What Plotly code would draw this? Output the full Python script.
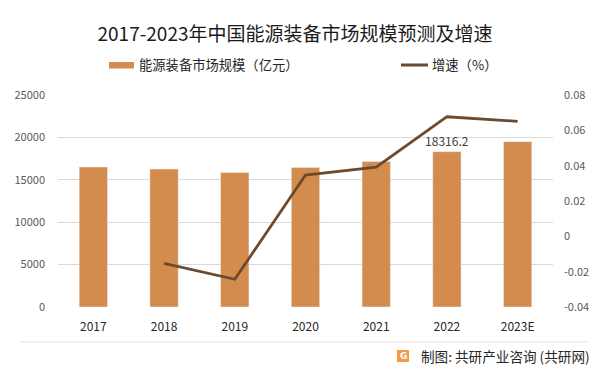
import plotly.graph_objects as go

# ---- data ----
years = ["2017", "2018", "2019", "2020", "2021", "2022", "2023E"]
market_size = [16510, 16260, 15850, 16450, 17150, 18316.2, 19500]   # 亿元
growth = [None, -0.0153, -0.0243, 0.0347, 0.0391, 0.0677, 0.0651]
labeled_year = "2022"
left_ticks = [0, 5000, 10000, 15000, 20000, 25000]
right_ticks = [-0.04, -0.02, 0, 0.02, 0.04, 0.06, 0.08]
right_tick_text = ["-0.04", "-0.02", "0", "0.02", "0.04", "0.06", "0.08"]

title_text = "2017-2023年中国能源装备市场规模预测及增速"
bar_name = "能源装备市场规模（亿元）"
line_name = "增速（%）"
source_text = "制图: 共研产业咨询 (共研网)"

# ---- styling ----
W, H = 600, 374
L, R, T, B = 58, 47, 95, 67
PW, PH = W - L - R, H - T - B
BAR_COLOR = "#D38B4E"
LINE_COLOR = "#6B4A2F"
GRID = "#D9D9D9"
CJK = "Noto Sans CJK SC, Noto Sans, sans-serif"


def px(x):
    return (x - L) / PW


def py(y):
    return (H - B - y) / PH


bar_text = [str(v) if yr == labeled_year else "" for yr, v in zip(years, market_size)]

fig = go.Figure()
fig.add_trace(go.Bar(
    x=years, y=market_size, name=bar_name, marker_color=BAR_COLOR,
    text=bar_text, textposition="outside", cliponaxis=False,
    constraintext="none",
    textfont=dict(size=12, color="#404040", family=CJK),
    showlegend=False,
))
fig.add_trace(go.Scatter(
    x=years, y=growth, name=line_name, yaxis="y2", mode="lines",
    line=dict(color=LINE_COLOR, width=2.8), connectgaps=False,
    showlegend=False,
))

shapes = [
    # legend swatches
    dict(type="rect", xref="paper", yref="paper", x0=px(109), x1=px(134),
         y0=py(68.5), y1=py(62), fillcolor=BAR_COLOR, line=dict(width=0)),
    dict(type="line", xref="paper", yref="paper", x0=px(401), x1=px(428),
         y0=py(65), y1=py(65), line=dict(color=LINE_COLOR, width=3)),
    # footer separator
    dict(type="line", xref="paper", yref="paper", x0=px(20), x1=px(587),
         y0=py(342), y1=py(342), line=dict(color="#E3E3E3", width=1)),
    # footer logo
    dict(type="rect", xref="paper", yref="paper", x0=px(397), x1=px(409),
         y0=py(362), y1=py(350), fillcolor="#F39A4A", line=dict(width=0)),
]

annotations = [
    dict(text=bar_name, xref="paper", yref="paper", x=px(137), y=py(65),
         xanchor="left", yanchor="middle", showarrow=False,
         font=dict(size=13.3, color="#262626", family=CJK)),
    dict(text=line_name, xref="paper", yref="paper", x=px(430), y=py(65),
         xanchor="left", yanchor="middle", showarrow=False,
         font=dict(size=13.3, color="#262626", family=CJK)),
    dict(text="<b>G</b>", xref="paper", yref="paper", x=px(403), y=py(356),
         xanchor="center", yanchor="middle", showarrow=False,
         font=dict(size=9, color="white", family="DejaVu Sans")),
    dict(text=source_text, xref="paper", yref="paper", x=px(419), y=py(356),
         xanchor="left", yanchor="middle", showarrow=False,
         font=dict(size=13.6, color="#262626", family=CJK)),
]

fig.update_layout(
    width=W, height=H,
    margin=dict(l=L, r=R, t=T, b=B, pad=0),
    paper_bgcolor="white", plot_bgcolor="white",
    title=dict(text=title_text, x=295 / W, xanchor="center",
               y=1 - 34 / H, yanchor="middle", yref="container",
               font=dict(size=19, color="#1a1a1a", family=CJK)),
    bargap=0.6,
    xaxis=dict(showline=False, ticks="", showgrid=False,
               tickfont=dict(size=12, color="#262626", family=CJK),
               ticklabelstandoff=11),
    yaxis=dict(range=[0, 25000], tickvals=left_ticks, tickformat="d",
               showgrid=True, gridcolor=GRID, gridwidth=1, zeroline=False,
               showline=False, ticks="", ticklabelstandoff=12,
               tickfont=dict(size=11, color="#595959", family=CJK)),
    yaxis2=dict(range=[-0.04, 0.08], overlaying="y", side="right",
                tickvals=right_ticks, ticktext=right_tick_text,
                showgrid=False, zeroline=False, showline=False, ticks="",
                ticklabelstandoff=10,
                tickfont=dict(size=11, color="#595959", family=CJK)),
    shapes=shapes, annotations=annotations,
)

fig.write_html(
    "out.html",
    config={"displayModeBar": False},
    post_script="document.body.style.margin='0';document.body.style.padding='0';",
)
